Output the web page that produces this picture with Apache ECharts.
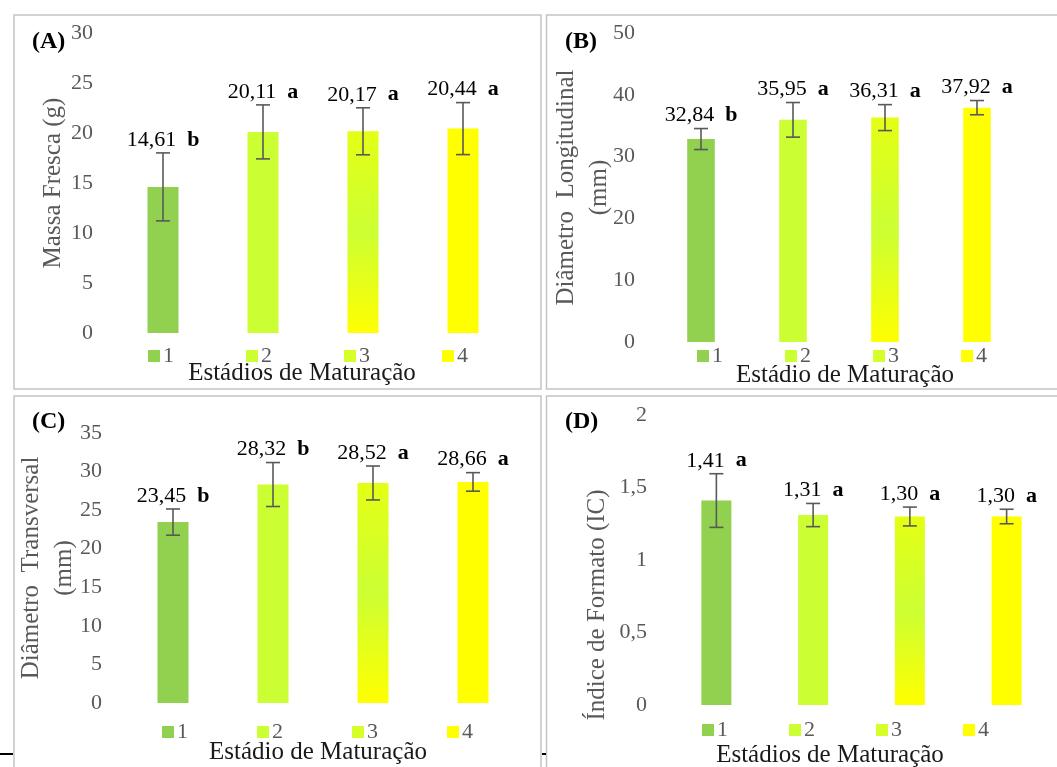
<!DOCTYPE html>
<html>
<head>
<meta charset="utf-8">
<script src="https://cdn.jsdelivr.net/npm/echarts@6/dist/echarts.min.js"></script>
<style>
html,body{margin:0;padding:0;background:#fff;}
#chart{width:1057px;height:767px;}
</style>
</head>
<body>
<div id="chart"></div>
<script>
// ---- data ----
const categories = ['1', '2', '3', '4'];

const massaFresca = [14.61, 20.11, 20.17, 20.44];
const massaFrescaSD = [3.4, 2.7, 2.35, 2.6];
const massaFrescaLetters = ['b', 'a', 'a', 'a'];

const diamLongitudinal = [32.84, 35.95, 36.31, 37.92];
const diamLongitudinalSD = [1.7, 2.8, 2.1, 1.15];
const diamLongitudinalLetters = ['b', 'a', 'a', 'a'];

const diamTransversal = [23.45, 28.32, 28.52, 28.66];
const diamTransversalSD = [1.7, 2.85, 2.2, 1.2];
const diamTransversalLetters = ['b', 'b', 'a', 'a'];

const indiceFormato = [1.41, 1.31, 1.30, 1.30];
const indiceFormatoSD = [0.185, 0.08, 0.065, 0.05];
const indiceFormatoLetters = ['a', 'a', 'a', 'a'];

const yAxisA = { min: 0, max: 30, interval: 5 };
const yAxisB = { min: 0, max: 50, interval: 10 };
const yAxisC = { min: 0, max: 35, interval: 5 };
const yAxisD = { min: 0, max: 2, interval: 0.5 };

// ---- styles ----
const SERIF = '"Liberation Serif","Times New Roman",serif';
const barColors = [
  '#92D050',
  '#CCFF33',
  { type: 'linear', x: 0, y: 0, x2: 0, y2: 1, colorStops: [
    { offset: 0, color: '#E4FF14' }, { offset: 0.5, color: '#CCFF33' }, { offset: 1, color: '#FFFF00' } ] },
  '#FFFF00'
];
const legendColors = ['#92D050', '#CCFF33', '#D6FF2A', '#FFFF00'];

const panels = [
  { vals: massaFresca, sd: massaFrescaSD, letters: massaFrescaLetters, y: yAxisA,
    grid: { left: 113, top: 33, width: 400, height: 300 }, barWidth: '31%',
    yName: 'Massa Fresca (g)', nameGap: 43, namePad: [0, 0, 0, 0], labelMargin: 20,
    legend: { left: 148, top: 345, gap: 72 } },
  { vals: diamLongitudinal, sd: diamLongitudinalSD, letters: diamLongitudinalLetters, y: yAxisB,
    grid: { left: 655, top: 33, width: 368, height: 309 }, barWidth: '30%',
    yName: 'Diâmetro  Longitudinal\n(mm)', nameGap: 39, namePad: [0, 0, 0, 0], labelMargin: 20,
    legend: { left: 697, top: 345, gap: 62 } },
  { vals: diamTransversal, sd: diamTransversalSD, letters: diamTransversalLetters, y: yAxisC,
    grid: { left: 123, top: 433, width: 400, height: 270 }, barWidth: '31%',
    yName: 'Diâmetro  Transversal\n(mm)', nameGap: 42, namePad: [0, 0, 0, 0], labelMargin: 21,
    legend: { left: 162, top: 721, gap: 69 } },
  { vals: indiceFormato, sd: indiceFormatoSD, letters: indiceFormatoLetters, y: yAxisD,
    grid: { left: 668, top: 415, width: 387, height: 290 }, barWidth: '31%',
    yName: 'Índice de Formato (IC)', nameGap: 54, namePad: [0, 90, 0, 0], labelMargin: 21,
    legend: { left: 702, top: 719, gap: 61 } }
];

function fmt(v) { return v.toFixed(2).replace('.', ','); }

function makeErr(letters) {
  return function (params, api) {
    const x = api.value(0), v = api.value(1), s = api.value(2);
    const top = api.coord([x, v + s]);
    const bot = api.coord([x, v - s]);
    const cap = 7;
    const st = { stroke: '#595959', lineWidth: 1.6 };
    return {
      type: 'group',
      children: [
        { type: 'line', shape: { x1: top[0], y1: top[1], x2: bot[0], y2: bot[1] }, style: st },
        { type: 'line', shape: { x1: top[0] - cap, y1: top[1], x2: top[0] + cap, y2: top[1] }, style: st },
        { type: 'line', shape: { x1: bot[0] - cap, y1: bot[1], x2: bot[0] + cap, y2: bot[1] }, style: st },
        { type: 'text', x: top[0], y: top[1] - 2,
          style: {
            text: '{v|' + fmt(v) + '}  {l|' + letters[params.dataIndex] + '}',
            align: 'center', verticalAlign: 'bottom',
            fontFamily: SERIF, fontSize: 22, fill: '#000',
            rich: {
              v: { fontFamily: SERIF, fontSize: 22, color: '#000' },
              l: { fontFamily: SERIF, fontSize: 22, color: '#000', fontWeight: 'bold' }
            }
          } }
      ]
    };
  };
}

const grids = [], xAxes = [], yAxes = [], series = [], legends = [];
panels.forEach((p, pi) => {
  grids.push(Object.assign({ outerBoundsMode: 'none', containLabel: false }, p.grid));
  xAxes.push({
    type: 'category', gridIndex: pi, data: categories,
    axisLine: { show: false }, axisTick: { show: false }, axisLabel: { show: false }
  });
  yAxes.push({
    type: 'value', gridIndex: pi, min: p.y.min, max: p.y.max, interval: p.y.interval,
    axisLine: { show: false }, axisTick: { show: false }, splitLine: { show: false },
    axisLabel: { fontFamily: SERIF, fontSize: 22, color: '#595959', margin: p.labelMargin,
      formatter: v => String(v).replace('.', ',') },
    name: p.yName, nameLocation: 'middle', nameGap: p.nameGap, nameMoveOverlap: false,
    nameTextStyle: { fontFamily: SERIF, fontSize: 25, color: '#595959', lineHeight: 33, padding: p.namePad }
  });
  categories.forEach((c, ci) => {
    series.push({
      type: 'bar', name: c, xAxisIndex: pi, yAxisIndex: pi,
      barWidth: p.barWidth, barGap: '-100%',
      data: p.vals.map((v, k) => (k === ci ? v : null)),
      itemStyle: { color: barColors[ci] },
      emphasis: { disabled: true }, animation: false
    });
  });
  series.push({
    type: 'custom', name: 'err' + pi, xAxisIndex: pi, yAxisIndex: pi,
    renderItem: makeErr(p.letters), clip: false, z: 10, animation: false,
    data: p.vals.map((v, k) => [k, v, p.sd[k]])
  });
  legends.push({
    left: p.legend.left, top: p.legend.top, itemGap: p.legend.gap, padding: 0,
    itemWidth: 12, itemHeight: 12, icon: 'rect', selectedMode: false,
    textStyle: { fontFamily: SERIF, fontSize: 22, color: '#595959', padding: [0, 0, 0, -2] },
    data: categories.map((c, ci) => ({ name: c, itemStyle: { color: legendColors[ci] } }))
  });
});

function txt(x, y, s, opts) {
  return { type: 'text', x: x, y: y, silent: true,
    style: Object.assign({ text: s, fontFamily: SERIF, fontSize: 25, fill: '#1a1a1a',
      align: 'center', verticalAlign: 'middle' }, opts || {}) };
}
const borderStyle = { stroke: '#c4c4c4', lineWidth: 1.5, fill: null };
const graphic = [
  { type: 'rect', shape: { x: 14, y: 15, width: 527, height: 374 }, style: borderStyle, silent: true },
  { type: 'rect', shape: { x: 546.5, y: 15, width: 530, height: 374 }, style: borderStyle, silent: true },
  { type: 'rect', shape: { x: 14, y: 396, width: 527, height: 390 }, style: borderStyle, silent: true },
  { type: 'rect', shape: { x: 546.5, y: 396, width: 530, height: 390 }, style: borderStyle, silent: true },
  { type: 'line', shape: { x1: 0, y1: 754, x2: 13, y2: 754 }, style: { stroke: '#000', lineWidth: 2 }, silent: true },
  { type: 'line', shape: { x1: 542, y1: 754, x2: 546, y2: 754 }, style: { stroke: '#000', lineWidth: 2 }, silent: true },
  txt(32, 42, '(A)', { align: 'left', fontWeight: 'bold', fontSize: 24, fill: '#000' }),
  txt(565, 42, '(B)', { align: 'left', fontWeight: 'bold', fontSize: 24, fill: '#000' }),
  txt(32, 422, '(C)', { align: 'left', fontWeight: 'bold', fontSize: 24, fill: '#000' }),
  txt(565, 422, '(D)', { align: 'left', fontWeight: 'bold', fontSize: 24, fill: '#000' }),
  txt(302, 373, 'Estádios de Maturação'),
  txt(845, 375, 'Estádio de Maturação'),
  txt(318, 752, 'Estádio de Maturação'),
  txt(830, 755, 'Estádios de Maturação')
];

const chart = echarts.init(document.getElementById('chart'), null, { renderer: 'canvas' });
chart.setOption({
  animation: false,
  backgroundColor: '#fff',
  grid: grids, xAxis: xAxes, yAxis: yAxes, series: series, legend: legends,
  graphic: graphic
});
</script>
</body>
</html>
